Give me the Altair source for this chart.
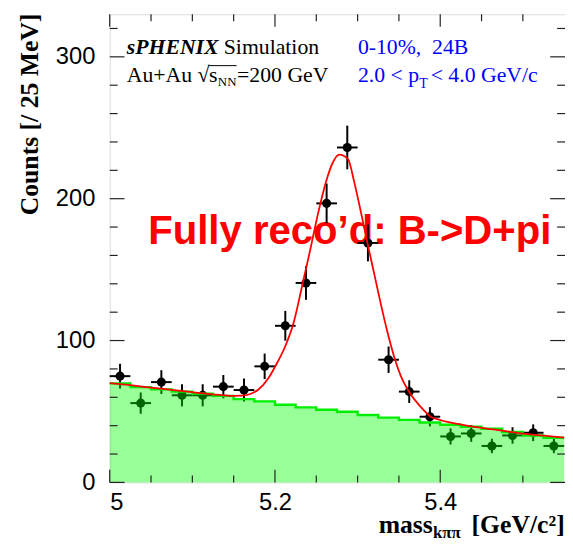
import altair as alt
import pandas as pd

# ---- data ----
bin_centers = [5.0125, 5.0375, 5.0625, 5.0875, 5.1125, 5.1375, 5.1625, 5.1875,
               5.2125, 5.2375, 5.2625, 5.2875, 5.3125, 5.3375, 5.3625, 5.3875,
               5.4125, 5.4375, 5.4625, 5.4875, 5.5125, 5.5375]
counts = [74.9, 55.9, 70.7, 61.4, 61.4, 67.5, 65.1, 81.8, 110.4, 140.6, 196.7,
          236.1, 168.8, 86.5, 64.0, 46.3, 32.4, 34.5, 25.7, 33.1, 35.0, 25.7]
count_err = [8.7, 7.5, 8.4, 7.8, 7.8, 8.2, 8.1, 9.0, 10.5, 11.9, 14.0, 15.4,
             13.0, 9.3, 8.0, 6.8, 5.7, 5.9, 5.1, 5.8, 5.9, 5.1]
half_bin = 0.0125

bin_edges = [5.0, 5.025, 5.05, 5.075, 5.1, 5.125, 5.15, 5.175, 5.2, 5.225, 5.25,
             5.275, 5.3, 5.325, 5.35, 5.375, 5.4, 5.425, 5.45, 5.475, 5.5, 5.525, 5.55]
background = [69.8, 67.2, 65.6, 64.0, 62.6, 61.0, 58.7, 57.1, 54.7, 52.9, 51.2,
              49.8, 47.5, 45.7, 44.1, 42.2, 40.6, 39.2, 37.8, 35.5, 33.1, 31.5]

fit_x = [5.000, 5.025, 5.050, 5.075, 5.100, 5.125, 5.140, 5.150, 5.160, 5.170,
         5.180, 5.1924, 5.2003, 5.2123, 5.2223, 5.2323, 5.2423, 5.2523, 5.2623,
         5.270, 5.278, 5.2882, 5.2962, 5.3042, 5.3122, 5.3201, 5.328, 5.3361,
         5.344, 5.352, 5.3632, 5.376, 5.388, 5.400, 5.425, 5.450, 5.475, 5.500,
         5.525, 5.550]
fit_y = [70.0, 68.5, 66.8, 65.2, 63.6, 62.1, 61.3, 61.0, 61.1, 62.3,
         65.5, 73.8, 81.8, 95.8, 112.0, 137.0, 163.0, 190.0, 213.0,
         225.5, 231.0, 228.0, 211.0, 190.0, 168.0, 147.0, 126.0, 106.0,
         89.0, 75.5, 63.0, 53.5, 46.5, 44.0, 40.8, 38.5, 36.5, 34.4,
         33.0, 31.5]

x_major = [5.0, 5.2, 5.4]
x_minor = [5.05, 5.1, 5.15, 5.25, 5.3, 5.35, 5.45, 5.5]
y_major = [0, 100, 200, 300]
y_minor = [20, 40, 60, 80, 120, 140, 160, 180, 220, 240, 260, 280, 320]

# ---- tables ----
pts = pd.DataFrame({
    "x": bin_centers, "y": counts,
    "ylo": [c - e for c, e in zip(counts, count_err)],
    "yhi": [c + e for c, e in zip(counts, count_err)],
    "xlo": [c - half_bin for c in bin_centers],
    "xhi": [c + half_bin for c in bin_centers],
})
hist = pd.DataFrame({"edge": bin_edges, "val": background + [background[-1]]})
fit = pd.DataFrame({"x": fit_x, "y": fit_y})
xmaj = pd.DataFrame({"v": x_major})
xmin = pd.DataFrame({"v": x_minor})
ymaj = pd.DataFrame({"v": y_major})
ymin = pd.DataFrame({"v": y_minor})
one = pd.DataFrame({"d": [0]})

W, H = 461, 474
xs = alt.Scale(domain=[5.0, 5.551], nice=False, zero=False)
ys = alt.Scale(domain=[0, 330], nice=False)

SERIF = "Liberation Serif"
SANS = "Liberation Sans"
FS = 22


def txt(s, x, y, size=FS, color="black", weight="normal", style="normal",
        font=SERIF, align="left", baseline="alphabetic", angle=0):
    kw = dict(text=s, font=font, fontSize=size, color=color, fontWeight=weight,
              fontStyle=style, align=align, baseline=baseline)
    if angle:
        kw["angle"] = angle
    return alt.Chart(one).mark_text(**kw).encode(x=alt.value(x), y=alt.value(y))


big_label = txt("Fully reco\u2019d: B->D+pi", 39, 232.6, size=40.6, color="#ff0000",
                weight="bold", font=SANS)

vbars = alt.Chart(pts).mark_rule(color="black", strokeWidth=2).encode(
    x=alt.X("x:Q", scale=xs,
            axis=alt.Axis(values=x_major, format="~g", ticks=False, domain=False,
                          grid=False, labelFont=SANS, labelFontSize=24,
                          labelPadding=8, labelColor="black", title=None)),
    y=alt.Y("ylo:Q", scale=ys,
            axis=alt.Axis(values=y_major, ticks=False, domain=False, grid=False,
                          labelFont=SANS, labelFontSize=24, labelPadding=15,
                          labelColor="black", title=None)),
    y2="yhi:Q",
)
hbars = alt.Chart(pts).mark_rule(color="black", strokeWidth=2).encode(
    x=alt.X("xlo:Q", scale=xs), x2="xhi:Q", y=alt.Y("y:Q", scale=ys))
dots = alt.Chart(pts).mark_circle(size=85, color="black", opacity=1).encode(
    x=alt.X("x:Q", scale=xs), y=alt.Y("y:Q", scale=ys))

area = alt.Chart(hist).mark_area(interpolate="step-after", color="#00ff00",
                                 opacity=0.4).encode(
    x=alt.X("edge:Q", scale=xs), y=alt.Y("val:Q", scale=ys))
step = alt.Chart(hist).mark_line(interpolate="step-after", color="#00ee00",
                                 strokeWidth=2.4).encode(
    x=alt.X("edge:Q", scale=xs), y=alt.Y("val:Q", scale=ys))
curve = alt.Chart(fit).mark_line(interpolate="monotone", color="#ff0000",
                                 strokeWidth=1.8).encode(
    x=alt.X("x:Q", scale=xs), y=alt.Y("y:Q", scale=ys))

TC = "#222222"


def xticks(df, length):
    bot = alt.Chart(df).mark_rule(color=TC, strokeWidth=1.2).encode(
        x=alt.X("v:Q", scale=xs), y=alt.value(H), y2=alt.value(H - length))
    top = alt.Chart(df).mark_rule(color=TC, strokeWidth=1.2).encode(
        x=alt.X("v:Q", scale=xs), y=alt.value(0), y2=alt.value(length))
    return [bot, top]


def yticks(df, length):
    left = alt.Chart(df).mark_rule(color=TC, strokeWidth=1.2).encode(
        y=alt.Y("v:Q", scale=ys), x=alt.value(0), x2=alt.value(length))
    right = alt.Chart(df).mark_rule(color=TC, strokeWidth=1.2).encode(
        y=alt.Y("v:Q", scale=ys), x=alt.value(W), x2=alt.value(W - length))
    return [left, right]


ticks = xticks(xmaj, 12.7) + xticks(xmin, 7) + yticks(ymaj, 15) + yticks(ymin, 8)

texts = [
    txt("sPHENIX", 17.3, 40, weight="bold", style="italic"),
    txt("Simulation", 115.5, 40),
    txt("Au+Au", 17.3, 69),
    txt("\u221a", 89, 69),
    txt("s", 100.5, 69),
    txt("NN", 109.5, 73, size=13),
    txt("=200 GeV", 129, 69),
    txt("0-10%,\u00a0\u00a024B", 251.3, 40, color="#0000ff"),
    txt("2.0 < p", 251.3, 69, color="#0000ff"),
    txt("T", 313.5, 75, size=14, color="#0000ff"),
    txt("< 4.0 GeV/c", 325, 69, color="#0000ff"),
    # axis titles
    txt("Counts [/ 25 MeV]", -81, -0.7, size=26, weight="bold", align="right",
        baseline="middle", angle=270),
    txt("mass", 272.3, 525.5, size=26, weight="bold"),
    txt("k\u03c0\u03c0", 327.3, 530.5, size=17, weight="bold"),
    txt("[GeV/c\u00b2]", 460.7, 525.5, size=26, weight="bold", align="right"),
]

overline = alt.Chart(one).mark_rule(color="black", strokeWidth=1).encode(
    x=alt.value(100), x2=alt.value(128.5), y=alt.value(52))

chart = alt.layer(
    big_label, vbars, hbars, dots, area, step, curve, *ticks, *texts, overline
).properties(
    width=W, height=H,
    autosize=alt.AutoSizeParams(type="none"),
    padding={"left": 103, "top": 3, "right": 0, "bottom": 58},
).configure_view(stroke="black", strokeWidth=1.6).configure(background="white")

chart.save("out.html", embed_options={"renderer": "svg", "actions": False})
